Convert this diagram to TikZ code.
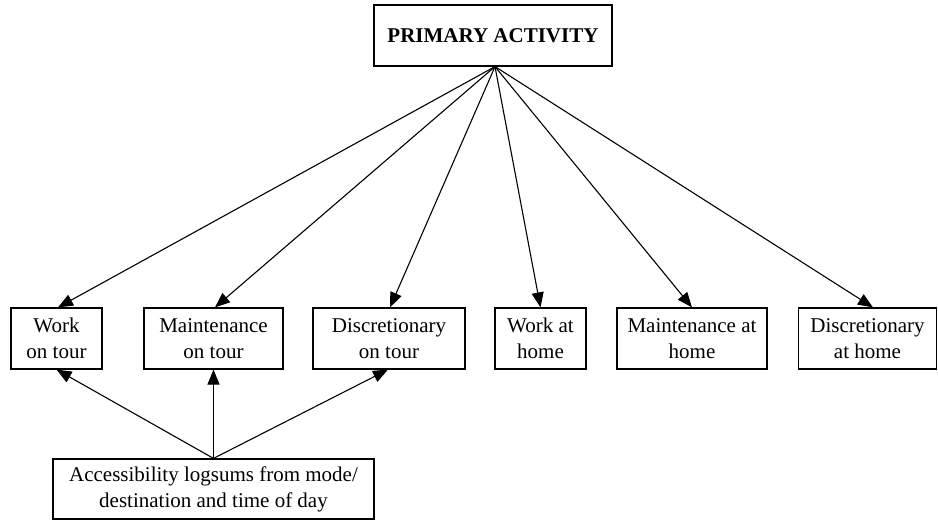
\documentclass[tikz,border=0pt]{standalone}
\usepackage{fontspec}
\setmainfont{Liberation Serif}
\usetikzlibrary{arrows.meta}
\begin{document}
\begin{tikzpicture}[x=1pt,y=-1pt,
  box/.style={draw, line width=1.2pt, align=center, inner sep=0pt, minimum height=61pt,
    font=\fontsize{21}{26}\selectfont},
  conn/.style={line width=1.1pt, -{Triangle[length=15pt,width=12pt]}}]
\useasboundingbox (0,0) rectangle (938,521);
\node[box, minimum width=238pt, font=\fontsize{21}{26}\selectfont\bfseries] (prim) at (493,35.5) {PRIMARY ACTIVITY};
\node[box, minimum width=91pt] (wot) at (56.5,338.5) {Work\\on tour};
\node[box, minimum width=139pt] (mot) at (213.5,338.5) {Maintenance\\on tour};
\node[box, minimum width=152pt] (dot) at (389,338.5) {Discretionary\\on tour};
\node[box, minimum width=91pt] (wah) at (540.5,338.5) {Work at\\home};
\node[box, minimum width=150pt] (mah) at (692,338.5) {Maintenance at\\home};
\node[box, minimum width=138pt] (dah) at (867.5,338.5) {Discretionary\\at home};
\node[box, minimum width=321pt, minimum height=60pt] (acc) at (213.5,489) {Accessibility logsums from mode/\\destination and time of day};
\coordinate (apex) at ([xshift=2pt]prim.south);
\draw[conn] (apex) -- ([xshift=1.5pt]wot.north);
\draw[conn] (apex) -- ([xshift=1.5pt]mot.north);
\draw[conn] (apex) -- ([xshift=1pt]dot.north);
\draw[conn] (apex) -- (wah.north);
\draw[conn] (apex) -- (mah.north);
\draw[conn] (apex) -- ([xshift=5.5pt]dah.north);
\draw[conn] (acc.north) -- (wot.south);
\draw[conn] (acc.north) -- (mot.south);
\draw[conn] (acc.north) -- ([xshift=-1pt]dot.south);
\end{tikzpicture}
\end{document}
